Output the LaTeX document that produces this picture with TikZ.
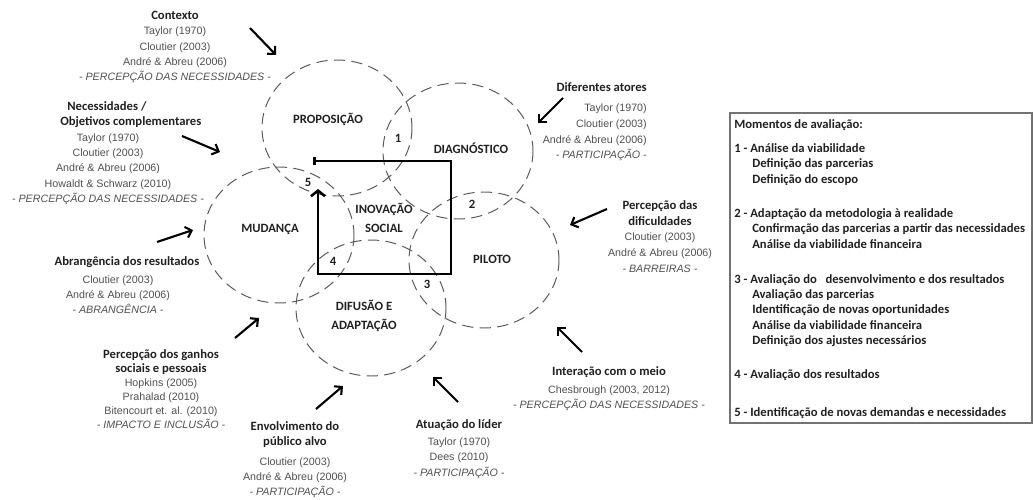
\documentclass[tikz,border=0pt]{standalone}
\usepackage{fontspec}
\setmainfont{Liberation Sans}
\newfontfamily\calib{Carlito}
\usetikzlibrary{arrows.meta}
\definecolor{refcor}{HTML}{505050}
\definecolor{titcor}{HTML}{202020}
\newcommand{\cab}[1]{{\calib\bfseries\fontsize{9}{11}\selectfont\color{titcor}#1}}
\newcommand{\recuo}{\hspace*{12.8pt}}

\begin{document}
\begin{tikzpicture}[x=0.025cm,y=-0.025cm,
    fase/.style={draw=black!65,line width=0.7pt,dash pattern=on 8pt off 4.5pt},
    rotulo/.style={font=\calib\bfseries\fontsize{9}{11}\selectfont,text=titcor,inner sep=0pt,align=center},
    bloco/.style={font=\fontsize{7.6}{10.9}\selectfont,text=refcor,align=center,inner sep=0pt,anchor=north},
    seta/.style={line width=1.5pt,-{Straight Barb[length=4pt,width=8pt]}}]
    \useasboundingbox (0,0) rectangle (1034,500);

    % fases
    \coordinate (prop) at (337,128);
    \coordinate (diag) at (458,151);
    \coordinate (mud) at (279,235);
    \coordinate (pil) at (484,260);
    \coordinate (dif) at (371,308);
    \foreach \c in {prop,diag,mud,pil,dif}
        \draw[fase] (\c) ellipse [x radius=75, y radius=68];
    \node[rotulo] (lprop) at (328,119) {PROPOSIÇÃO};
    \node[rotulo] (ldiag) at (471,148) {DIAGNÓSTICO};
    \node[rotulo] (lmud) at (270,229) {MUDANÇA};
    \node[rotulo] (lpil) at (492,259) {PILOTO};
    \node[rotulo] (ldif) at (364,316) {DIFUSÃO E\\[3pt] ADAPTAÇÃO};
    \node[rotulo] (inov) at (384,218) {INOVAÇÃO\\[2pt] SOCIAL};
    \foreach \n/\p in {1/{398,138},2/{472,204},3/{427,284},4/{333,261},5/{308,182}}
        \node[rotulo] (n\n) at (\p) {\n};

    % ciclo
    \coordinate (fA) at (313,161);
    \coordinate (fB) at (451,161);
    \coordinate (fC) at (451,274);
    \coordinate (fD) at (318,274);
    \coordinate (fE) at (318,189);
    \draw[line width=1.8pt,{Bar[width=5pt]}-{Straight Barb[length=4pt,width=10pt]}] (fA) -- (fB) -- (fC) -- (fD) -- (fE);

    % fatores
    \node[bloco] (ctx) at (175,11) {\cab{Contexto}\\ Taylor (1970)\\ Cloutier (2003)\\ André \& Abreu (2006)\\ \textit{- PERCEPÇÃO DAS NECESSIDADES -}};
    \node[bloco,anchor=north west,align=left] (necH) at (60,101) {\hspace*{5pt}\cab{Necessidades /}\\ \cab{Objetivos complementares}};
    \node[bloco] (necR) at (108,133) {Taylor (1970)\\ Cloutier (2003)\\ André \& Abreu (2006)\\ Howaldt \& Schwarz (2010)\\ \textit{- PERCEPÇÃO DAS NECESSIDADES -}};
    \node[bloco] (abrH) at (127,256) {\cab{Abrangência dos resultados}};
    \node[bloco] (abrR) at (118,275) {Cloutier (2003)\\ André \& Abreu (2006)\\ \textit{- ABRANGÊNCIA -}};
    \node[bloco,font=\fontsize{7.6}{10}\selectfont] (gan) at (161,349) {\cab{Percepção dos ganhos}\\ \cab{sociais e pessoais}\\ Hopkins (2005)\\ Prahalad (2010)\\ Bitencourt et. al. (2010)\\ \textit{- IMPACTO E INCLUSÃO -}};
    \node[bloco] (env) at (295,421) {\cab{Envolvimento do}\\ \cab{público alvo}\\[3pt] Cloutier (2003)\\ André \& Abreu (2006)\\ \textit{- PARTICIPAÇÃO -}};
    \node[bloco] (lid) at (459,419) {\cab{Atuação do líder}\\[1.5pt] Taylor (1970)\\ Dees (2010)\\ \textit{- PARTICIPAÇÃO -}};
    \node[bloco] (int) at (609,366) {\cab{Interação com o meio}\\[2pt] Chesbrough (2003, 2012)\\ \textit{- PERCEPÇÃO DAS NECESSIDADES -}};
    \node[bloco,font=\fontsize{7.6}{11.3}\selectfont] (dific) at (660,200) {\cab{Percepção das}\\ \cab{dificuldades}\\ Cloutier (2003)\\ André \& Abreu (2006)\\ \textit{- BARREIRAS -}};
    \node[bloco,anchor=north east,align=right,font=\fontsize{7.6}{11.3}\selectfont] (ato) at (647,82) {\cab{Diferentes atores}\\[3pt] Taylor (1970)\\ Cloutier (2003)\\ André \& Abreu (2006)\\ \textit{- PARTICIPAÇÃO -}};

    % setas
    \coordinate (a1) at (250,28);  \coordinate (b1) at (276,55);
    \coordinate (a2) at (182,136); \coordinate (b2) at (220,152);
    \coordinate (a3) at (157,242); \coordinate (b3) at (193,230);
    \coordinate (a4) at (235,338); \coordinate (b4) at (259,318);
    \coordinate (a5) at (316,409); \coordinate (b5) at (343,386);
    \coordinate (a6) at (458,402); \coordinate (b6) at (433,377);
    \coordinate (a7) at (582,352); \coordinate (b7) at (557,327);
    \coordinate (a8) at (607,209); \coordinate (b8) at (570,225);
    \coordinate (a9) at (563,98);  \coordinate (b9) at (538,123);
    \foreach \s in {1,...,9}
        \draw[seta] (a\s) -- (b\s);

    % momentos de avaliacao
    \coordinate (bx1) at (730,113);
    \coordinate (bx2) at (1032,423);
    \draw[black!55,line width=0.8pt] (bx1) rectangle (bx2);
    \node[rotulo,anchor=north west,align=left,font=\calib\bfseries\fontsize{9}{10.9}\selectfont] (mom) at (734,119) {Momentos de avaliação:\\[6.5pt]
        1 - Análise da viabilidade\\
        \recuo Definição das parcerias\\
        \recuo Definição do escopo\\[13.5pt]
        2 - Adaptação da metodologia à realidade\\
        \recuo Confirmação das parcerias a partir das necessidades\\
        \recuo Análise da viabilidade financeira\\[14pt]
        3 - Avaliação do\ \ \ desenvolvimento e dos resultados\\
        \recuo Avaliação das parcerias\\
        \recuo Identificação de novas oportunidades\\
        \recuo Análise da viabilidade financeira\\
        \recuo Definição dos ajustes necessários\\[13pt]
        4 - Avaliação dos resultados\\[16.5pt]
        5 - Identificação de novas demandas e necessidades};
\end{tikzpicture}
\end{document}
